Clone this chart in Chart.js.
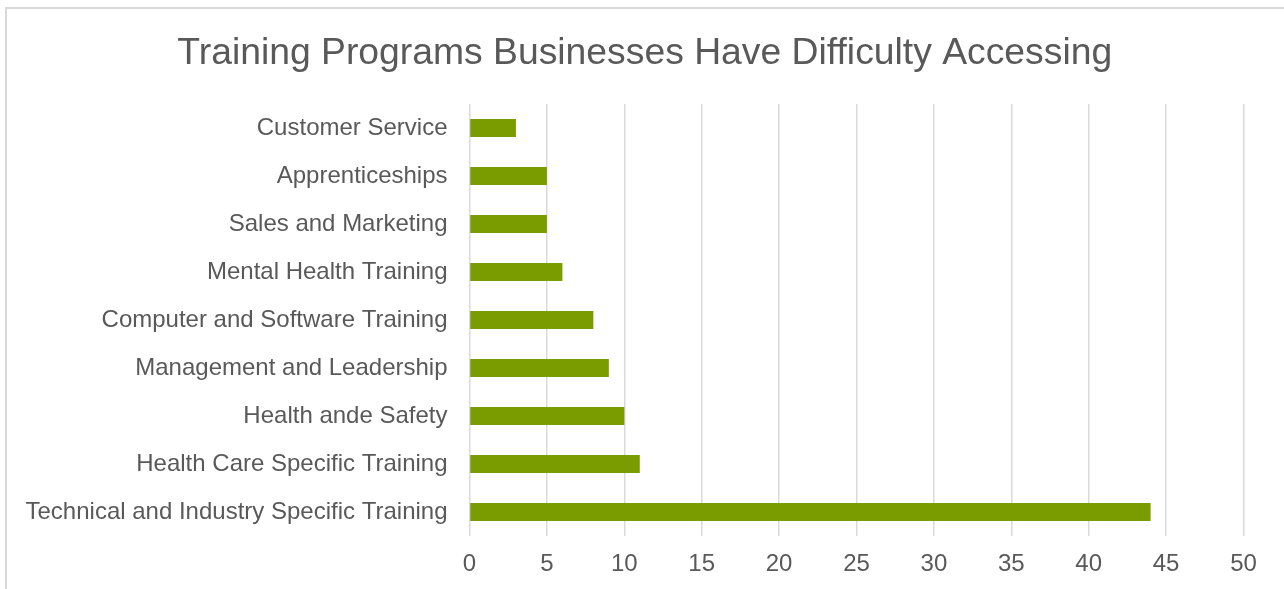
<!DOCTYPE html>
<html>
<head>
<meta charset="utf-8">
<title>Training Programs Businesses Have Difficulty Accessing</title>
<script src="https://cdn.jsdelivr.net/npm/chart.js@4/dist/chart.umd.min.js"></script>
<style>
    html, body { margin: 0; padding: 0; background: #ffffff; overflow: hidden; }
    #frame {
        position: absolute; left: 5px; top: 7px;
        width: 1300px; height: 620px;
        border: 2px solid #d9d9d9;
    }
    #chart { position: absolute; left: 0; top: 0; }
</style>
</head>
<body>
<div id="frame"></div>
<canvas id="chart" width="1284" height="589"></canvas>
<script>
// =======================================================
// DADOS
// =======================================================
const categories = [
    'Customer Service',
    'Apprenticeships',
    'Sales and Marketing',
    'Mental Health Training',
    'Computer and Software Training',
    'Management and Leadership',
    'Health ande Safety',
    'Health Care Specific Training',
    'Technical and Industry Specific Training'
];
const responses = [3, 5, 5, 6, 8, 9, 10, 11, 44];
const xTicks = [0, 5, 10, 15, 20, 25, 30, 35, 40, 45, 50];

const TEXT_COLOR = '#595959';
const GRID_COLOR = '#d9d9d9';
const BAR_COLOR = '#7a9c00';

// o eixo y ocupa tudo à esquerda; o título é centrado como no original
const titleOffset = {
    id: 'titleOffset',
    afterLayout(chart) {
        if (chart.titleBlock) chart.titleBlock.left = 46;
    }
};

// =======================================================
// GRÁFICO
// =======================================================
function renderTrainingChart() {
    const ctx = document.getElementById('chart');

    new Chart(ctx, {
        type: 'bar',
        data: {
            labels: categories,
            datasets: [{
                label: 'Businesses',
                data: responses,
                backgroundColor: BAR_COLOR,
                borderWidth: 0,
                barPercentage: 0.375,
                categoryPercentage: 1
            }]
        },
        options: {
            indexAxis: 'y',
            responsive: false,
            animation: false,
            layout: { padding: { left: 0, right: 40.5, top: 0, bottom: 0 } },
            scales: {
                x: {
                    min: xTicks[0],
                    max: xTicks[xTicks.length - 1],
                    afterBuildTicks: (scale) => { scale.ticks = xTicks.map(v => ({ value: v })); },
                    afterFit: (scale) => { scale.height = 53; },
                    border: { display: false },
                    grid: { color: GRID_COLOR, lineWidth: 1.5, drawTicks: false },
                    ticks: {
                        color: TEXT_COLOR,
                        padding: 14,
                        font: { family: 'Liberation Sans, Arial, sans-serif', size: 24 }
                    }
                },
                y: {
                    afterFit: (scale) => { scale.width = 469.5; },
                    border: { display: false },
                    grid: { display: false, drawTicks: false },
                    ticks: {
                        color: TEXT_COLOR,
                        padding: 22,
                        autoSkip: false,
                        font: { family: 'Liberation Sans, Arial, sans-serif', size: 24 }
                    }
                }
            },
            plugins: {
                legend: { display: false },
                tooltip: { enabled: false },
                title: {
                    display: true,
                    text: 'Training Programs Businesses Have Difficulty Accessing',
                    color: TEXT_COLOR,
                    font: { family: 'Liberation Sans, Arial, sans-serif', size: 37.3, weight: 'normal', lineHeight: 1.2 },
                    padding: { top: 31, bottom: 28.2 }
                }
            }
        },
        plugins: [titleOffset]
    });
}

renderTrainingChart();
</script>
</body>
</html>
